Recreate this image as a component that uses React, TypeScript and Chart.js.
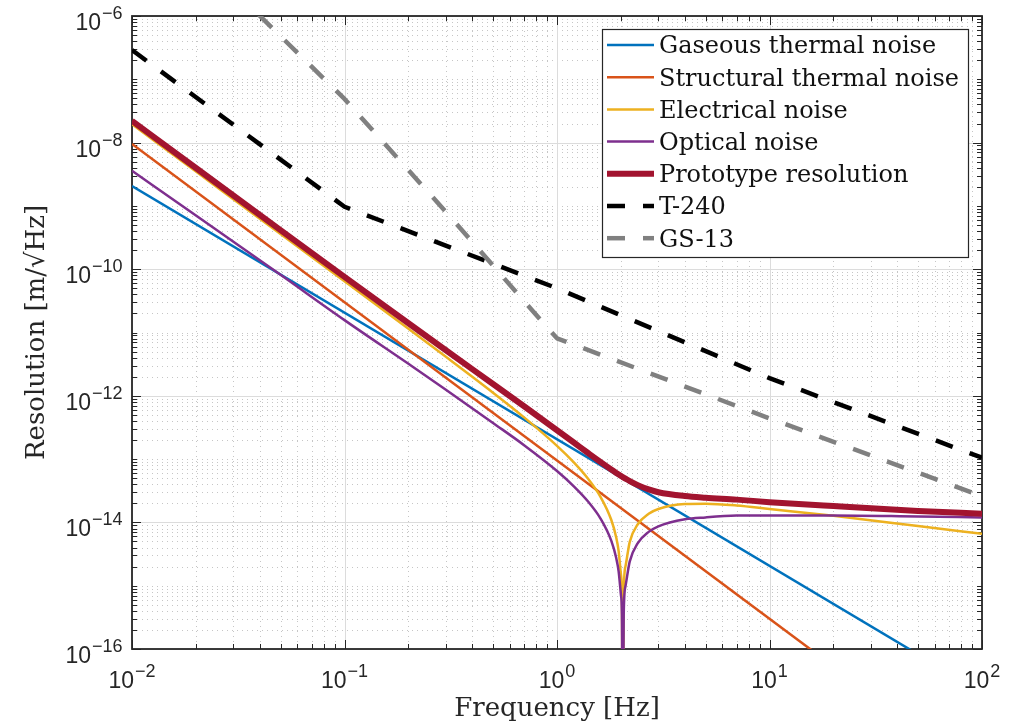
import React, { useEffect, useRef } from 'react';
import { Chart, registerables } from 'chart.js';

Chart.register(...registerables);

// ---- Data ----
const curveFreqs = [0.01, 0.02, 0.05, 0.1, 0.2, 0.3, 0.5, 0.7, 1, 1.2, 1.4, 1.6, 1.8, 1.9, 1.95, 2.0, 2.02, 2.04, 2.06, 2.1, 2.2, 2.4, 2.7, 3, 4, 5, 7, 10, 20, 50, 100];
const electricalNoise = [1.95e-8, 3.49e-9, 3.59e-10, 6.43e-11, 1.144e-11, 4.13e-12, 1.12e-12, 4.56e-13, 1.62e-13, 8.88e-14, 4.9e-14, 2.56e-14, 1.1e-14, 5.76e-15, 3.52e-15, 1.49e-15, 7.3e-16, 1e-18, 7.0e-16, 2.02e-15, 4.93e-15, 9.35e-15, 1.37e-14, 1.63e-14, 1.95e-14, 1.97e-14, 1.85e-14, 1.63e-14, 1.27e-14, 8.77e-15, 6.61e-15];
const opticalNoise = [3.6e-9, 7.03e-10, 8.15e-11, 1.57e-11, 3.2e-12, 1.25e-12, 3.72e-13, 1.66e-13, 6.49e-14, 3.72e-14, 2.14e-14, 1.16e-14, 5.14e-15, 2.73e-15, 1.68e-15, 7.1e-16, 3.5e-16, 1e-18, 3.4e-16, 9.8e-16, 2.42e-15, 4.7e-15, 7.08e-15, 8.67e-15, 1.12e-14, 1.2e-14, 1.28e-14, 1.29e-14, 1.29e-14, 1.24e-14, 1.2e-14];
const prototypeResolution = [2.21e-8, 3.97e-9, 4.14e-10, 7.55e-11, 1.4e-11, 5.25e-12, 1.536e-12, 6.83e-13, 2.86e-13, 1.827e-13, 1.249e-13, 9.02e-14, 6.83e-14, 6.05e-14, 5.72e-14, 5.42e-14, 5.31e-14, 5.2e-14, 5.1e-14, 4.91e-14, 4.49e-14, 3.88e-14, 3.32e-14, 3.0e-14, 2.61e-14, 2.456e-14, 2.29e-14, 2.09e-14, 1.81e-14, 1.52e-14, 1.37e-14];

const straightFreqs = [0.01, 100];
const gaseousNoise = [2.06e-9, 2.06e-17];
const structuralNoise = [9.5e-9, 9.5e-19];

const t240Freqs = [0.01, 0.1, 1, 10, 100];
const t240Noise = [2.9e-7, 9.7e-10, 5.0e-11, 1.9e-12, 1.05e-13];

const gs13Freqs = [0.03, 0.04, 0.1, 0.309, 0.864, 1, 10, 100];
const gs13Noise = [2.6e-6, 1.0e-6, 4.9e-8, 7.2e-10, 1.4e-11, 8.1e-12, 4.4e-13, 2.6e-14];

const seriesLabels = ['Gaseous thermal noise', 'Structural thermal noise', 'Electrical noise', 'Optical noise', 'Prototype resolution', 'T-240', 'GS-13'];
const seriesColors = ['#0072BD', '#D95319', '#EDB120', '#7E2F8E', '#A2142F', '#000000', '#808080'];

const xMajorTicks = [0.01, 0.1, 1, 10, 100];
const xTickExponents = ['\u22122', '\u22121', '0', '1', '2'];
const yMajorTicks = [1e-16, 1e-14, 1e-12, 1e-10, 1e-8, 1e-6];
const yTickExponents = ['\u221216', '\u221214', '\u221212', '\u221210', '\u22128', '\u22126'];

const pts = (fs: number[], vs: number[]) => fs.map((f, i) => ({ x: f, y: vs[i] }));

const AXIS = '#262626';

const decorPlugin = {
  id: 'matlabDecor',
  beforeDatasetsDraw(chart: any) {
    const { ctx, chartArea: a, scales } = chart;
    const x = scales.x;
    const y = scales.y;
    ctx.save();
    // minor dotted grid
    ctx.strokeStyle = '#c6c6c6';
    ctx.lineWidth = 1;
    ctx.setLineDash([1, 4]);
    ctx.beginPath();
    for (let n = -2; n < 2; n++) {
      for (let k = 2; k <= 9; k++) {
        const px = Math.round(x.getPixelForValue(k * Math.pow(10, n))) + 0.5;
        ctx.moveTo(px, a.top);
        ctx.lineTo(px, a.bottom);
      }
    }
    for (let n = -16; n < -6; n++) {
      for (let k = 1; k <= 9; k++) {
        if (k === 1 && Math.abs(n % 2) === 0) continue;
        const py = Math.round(y.getPixelForValue(k * Math.pow(10, n))) + 0.5;
        ctx.moveTo(a.left, py);
        ctx.lineTo(a.right, py);
      }
    }
    ctx.stroke();
    // major solid grid
    ctx.setLineDash([]);
    ctx.strokeStyle = '#dcdcdc';
    ctx.beginPath();
    xMajorTicks.forEach((v) => {
      const px = Math.round(x.getPixelForValue(v)) + 0.5;
      ctx.moveTo(px, a.top);
      ctx.lineTo(px, a.bottom);
    });
    yMajorTicks.forEach((v) => {
      const py = Math.round(y.getPixelForValue(v)) + 0.5;
      ctx.moveTo(a.left, py);
      ctx.lineTo(a.right, py);
    });
    ctx.stroke();

    // ticks (inside)
    ctx.strokeStyle = AXIS;
    ctx.lineWidth = 1;
    ctx.beginPath();
    const xt = (v: number, len: number) => {
      const px = Math.round(x.getPixelForValue(v)) + 0.5;
      ctx.moveTo(px, a.bottom);
      ctx.lineTo(px, a.bottom - len);
      ctx.moveTo(px, a.top);
      ctx.lineTo(px, a.top + len);
    };
    const yt = (v: number, len: number) => {
      const py = Math.round(y.getPixelForValue(v)) + 0.5;
      ctx.moveTo(a.left, py);
      ctx.lineTo(a.left + len, py);
      ctx.moveTo(a.right, py);
      ctx.lineTo(a.right - len, py);
    };
    xMajorTicks.forEach((v) => xt(v, 9));
    for (let n = -2; n < 2; n++) for (let k = 2; k <= 9; k++) xt(k * Math.pow(10, n), 5);
    yMajorTicks.forEach((v) => yt(v, 9));
    for (let n = -16; n < -6; n++) {
      for (let k = 1; k <= 9; k++) {
        if (k === 1 && Math.abs(n % 2) === 0) continue;
        yt(k * Math.pow(10, n), 5);
      }
    }
    ctx.stroke();

    // axes box
    ctx.lineWidth = 1.8;
    ctx.strokeStyle = AXIS;
    ctx.strokeRect(a.left, a.top, a.right - a.left, a.bottom - a.top);
    ctx.restore();
  },
  afterDraw(chart: any) {
    const { ctx, chartArea: a, scales } = chart;
    const x = scales.x;
    const y = scales.y;
    ctx.save();
    ctx.fillStyle = AXIS;
    ctx.textBaseline = 'alphabetic';
    ctx.textAlign = 'left';
    const baseFont = '23px "Liberation Sans", Arial, sans-serif';
    const expFont = '18px "Liberation Sans", Arial, sans-serif';
    const measure = (t: string, f: string) => {
      ctx.font = f;
      return ctx.measureText(t).width;
    };
    const wb = measure('10', baseFont);
    xMajorTicks.forEach((v, i) => {
      const we = measure(xTickExponents[i], expFont);
      const total = wb + 1 + we;
      const px = x.getPixelForValue(v);
      const sx = px - total / 2;
      ctx.font = baseFont;
      ctx.fillText('10', sx, a.bottom + 38.5);
      ctx.font = expFont;
      ctx.fillText(xTickExponents[i], sx + wb + 1, a.bottom + 28.3);
    });
    yMajorTicks.forEach((v, i) => {
      const we = measure(yTickExponents[i], expFont);
      const total = wb + 1 + we;
      const py = y.getPixelForValue(v);
      const sx = a.left - 9.5 - total;
      ctx.font = baseFont;
      ctx.fillText('10', sx, py + 14);
      ctx.font = expFont;
      ctx.fillText(yTickExponents[i], sx + wb + 1, py + 3);
    });

    // legend
    const lx = 602.5, ly = 29.5, lw = 366, lh = 228;
    ctx.fillStyle = '#ffffff';
    ctx.fillRect(lx, ly, lw, lh);
    ctx.strokeStyle = AXIS;
    ctx.lineWidth = 1.2;
    ctx.strokeRect(lx, ly, lw, lh);
    ctx.font = '24px "DejaVu Serif", serif';
    chart.data.datasets.forEach((ds: any, i: number) => {
      const ry = 45 + i * 32.2;
      ctx.save();
      ctx.strokeStyle = ds.borderColor;
      ctx.lineWidth = ds.borderWidth;
      ctx.setLineDash(ds.borderDash || []);
      ctx.lineCap = 'butt';
      ctx.beginPath();
      ctx.moveTo(607, ry);
      ctx.lineTo(654, ry);
      ctx.stroke();
      ctx.restore();
      ctx.fillStyle = '#111111';
      ctx.fillText(ds.label, 659, ry + 8.3);
    });
    ctx.restore();
  },
};

export default function App() {
  const canvasRef = useRef<HTMLCanvasElement | null>(null);

  useEffect(() => {
    if (!canvasRef.current) return;
    const widths = [2.5, 2.5, 2.5, 2.5, 6, 4.5, 4.5];
    const dataSets = [
      pts(straightFreqs, gaseousNoise),
      pts(straightFreqs, structuralNoise),
      pts(curveFreqs, electricalNoise),
      pts(curveFreqs, opticalNoise),
      pts(curveFreqs, prototypeResolution),
      pts(t240Freqs, t240Noise),
      pts(gs13Freqs, gs13Noise),
    ];
    const chart = new Chart(canvasRef.current, {
      type: 'line',
      data: {
        datasets: dataSets.map((d, i) => ({
          label: seriesLabels[i],
          data: d,
          borderColor: seriesColors[i],
          backgroundColor: seriesColors[i],
          borderWidth: widths[i],
          borderDash: i >= 5 ? [18, 18] : [],
          borderCapStyle: 'butt',
          borderJoinStyle: 'round',
          pointRadius: 0,
          pointHoverRadius: 0,
          fill: false,
          tension: 0,
          cubicInterpolationMode: i >= 2 && i <= 4 ? 'monotone' : 'default',
          clip: 0,
          order: 7 - i,
        })),
      },
      options: {
        animation: false,
        responsive: true,
        maintainAspectRatio: false,
        devicePixelRatio: 1,
        layout: { padding: { left: 0, top: 16, right: 48, bottom: 0 } },
        plugins: { legend: { display: false }, tooltip: { enabled: false } },
        events: [],
        scales: {
          x: {
            type: 'logarithmic',
            position: 'bottom',
            min: 0.01,
            max: 100,
            grid: { display: false },
            border: { display: false },
            ticks: { display: false },
            title: {
              display: true,
              text: 'Frequency [Hz]',
              color: AXIS,
              font: { family: '"DejaVu Serif", serif', size: 26, weight: 'normal' },
              padding: { top: 0, bottom: 2.5 },
            },
            afterFit: (s: any) => { s.height = 78; },
          },
          y: {
            type: 'logarithmic',
            position: 'left',
            min: 1e-16,
            max: 1e-6,
            grid: { display: false },
            border: { display: false },
            ticks: { display: false },
            title: {
              display: true,
              text: 'Resolution [m/\u221AHz]',
              color: AXIS,
              font: { family: '"DejaVu Serif", serif', size: 26, weight: 'normal' },
              padding: { top: 21.4, bottom: 0 },
            },
            afterFit: (s: any) => { s.width = 132; },
          },
        },
      } as any,
      plugins: [decorPlugin],
    });
    return () => chart.destroy();
  }, []);

  return (
    <div style={{ position: 'fixed', left: 0, top: 0, width: '1030px', height: '727px', background: '#ffffff' }}>
      <canvas ref={canvasRef} />
    </div>
  );
}
